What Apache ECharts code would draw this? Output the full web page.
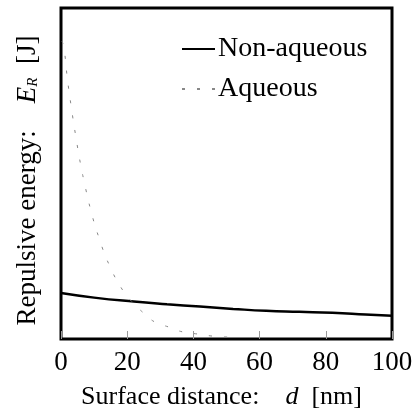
<!DOCTYPE html>
<html>
    <head>
        <meta charset="utf-8">
        <script src="https://cdn.jsdelivr.net/npm/echarts@6/dist/echarts.min.js"></script>
        <style>
            html, body { margin: 0; padding: 0; background: #fff; }
            #main { width: 413px; height: 416px; }
        </style>
    </head>
    <body>
        <div id="main"></div>
        <script>
        // values (y in arbitrary units, 0..1)
        var seriesNames = ['Non-aqueous', 'Aqueous'];
        var nonAqueous = [[0, 0.139], [10, 0.125], [22, 0.113], [32, 0.105], [42, 0.098],
                          [52, 0.091], [62, 0.085], [72, 0.082], [82, 0.079], [92, 0.074], [100, 0.07]];
        var aqueous = [[0.3, 0.9], [0.9, 0.879], [1.9, 0.789], [3.1, 0.701], [4.5, 0.61], [6.0, 0.523],
                       [6.9, 0.48], [8.9, 0.393], [11.5, 0.305], [14.7, 0.221], [18.8, 0.145],
                       [21.8, 0.109], [24.9, 0.079], [28.4, 0.051], [32.6, 0.036], [36.9, 0.021],
                       [41.3, 0.015], [45.6, 0.009], [50.2, 0.006]];
        var xTicks = [0, 20, 40, 60, 80, 100];

        var chart = echarts.init(document.getElementById('main'));
        var serif = '"Liberation Serif", "DejaVu Serif", serif';

        var option = {
            animation: false,
            textStyle: { fontFamily: serif, color: '#000' },
            grid: {
                show: true,
                left: 61, top: 8, right: 21, bottom: 77,
                outerBoundsMode: 'none',
                containLabel: false,
                borderColor: '#000',
                borderWidth: 3,
                backgroundColor: '#fff'
            },
            legend: {
                orient: 'vertical',
                left: 176,
                top: 30,
                itemWidth: 33,
                itemHeight: 14,
                itemGap: 12,
                data: seriesNames,
                itemStyle: { opacity: 0 },
                textStyle: { fontFamily: serif, fontSize: 28, color: '#000', padding: [0, 0, 0, -2] }
            },
            xAxis: {
                type: 'value',
                min: xTicks[0],
                max: xTicks[xTicks.length - 1],
                interval: 20,
                name: 'Surface distance:    {i|d}  [nm]',
                nameLocation: 'middle',
                nameGap: 45,
                nameTextStyle: {
                    fontFamily: serif, fontSize: 26, color: '#000',
                    padding: [0, 10, 0, 0],
                    rich: { i: { fontFamily: serif, fontSize: 26, fontStyle: 'italic', color: '#000' } }
                },
                axisLine: { show: false },
                axisTick: { show: true, inside: true, length: 8, lineStyle: { color: '#999', width: 1 } },
                axisLabel: { fontFamily: serif, fontSize: 27, color: '#000', margin: 10 },
                splitLine: { show: false }
            },
            yAxis: {
                type: 'value',
                min: 0,
                max: 1,
                name: 'Repulsive energy:    {i|E}{sub|R}  [J]',
                nameLocation: 'middle',
                nameGap: 20,
                nameRotate: 90,
                nameTextStyle: {
                    fontFamily: serif, fontSize: 27, color: '#000',
                    padding: [0, 14, 0, 0],
                    rich: {
                        i: { fontFamily: serif, fontSize: 27, fontStyle: 'italic', color: '#000' },
                        sub: { fontFamily: serif, fontSize: 15, fontStyle: 'italic', color: '#000', verticalAlign: 'bottom', padding: [10, 0, 0, 0] }
                    }
                },
                axisLine: { show: false },
                axisTick: { show: false },
                axisLabel: { show: false },
                splitLine: { show: false }
            },
            series: [
                {
                    name: seriesNames[0],
                    type: 'line',
                    data: nonAqueous,
                    smooth: true,
                    showSymbol: false,
                    symbol: 'none',
                    lineStyle: { color: '#000', width: 2.5 },
                    itemStyle: { color: '#000' }
                },
                {
                    name: seriesNames[1],
                    type: 'line',
                    data: aqueous,
                    smooth: true,
                    showSymbol: false,
                    symbol: 'none',
                    lineStyle: { color: '#888', width: 1, type: [3, 12] },
                    itemStyle: { color: '#888' }
                }
            ]
        };
        chart.setOption(option);

        window.onresize = chart.resize;
        </script>
    </body>
</html>
